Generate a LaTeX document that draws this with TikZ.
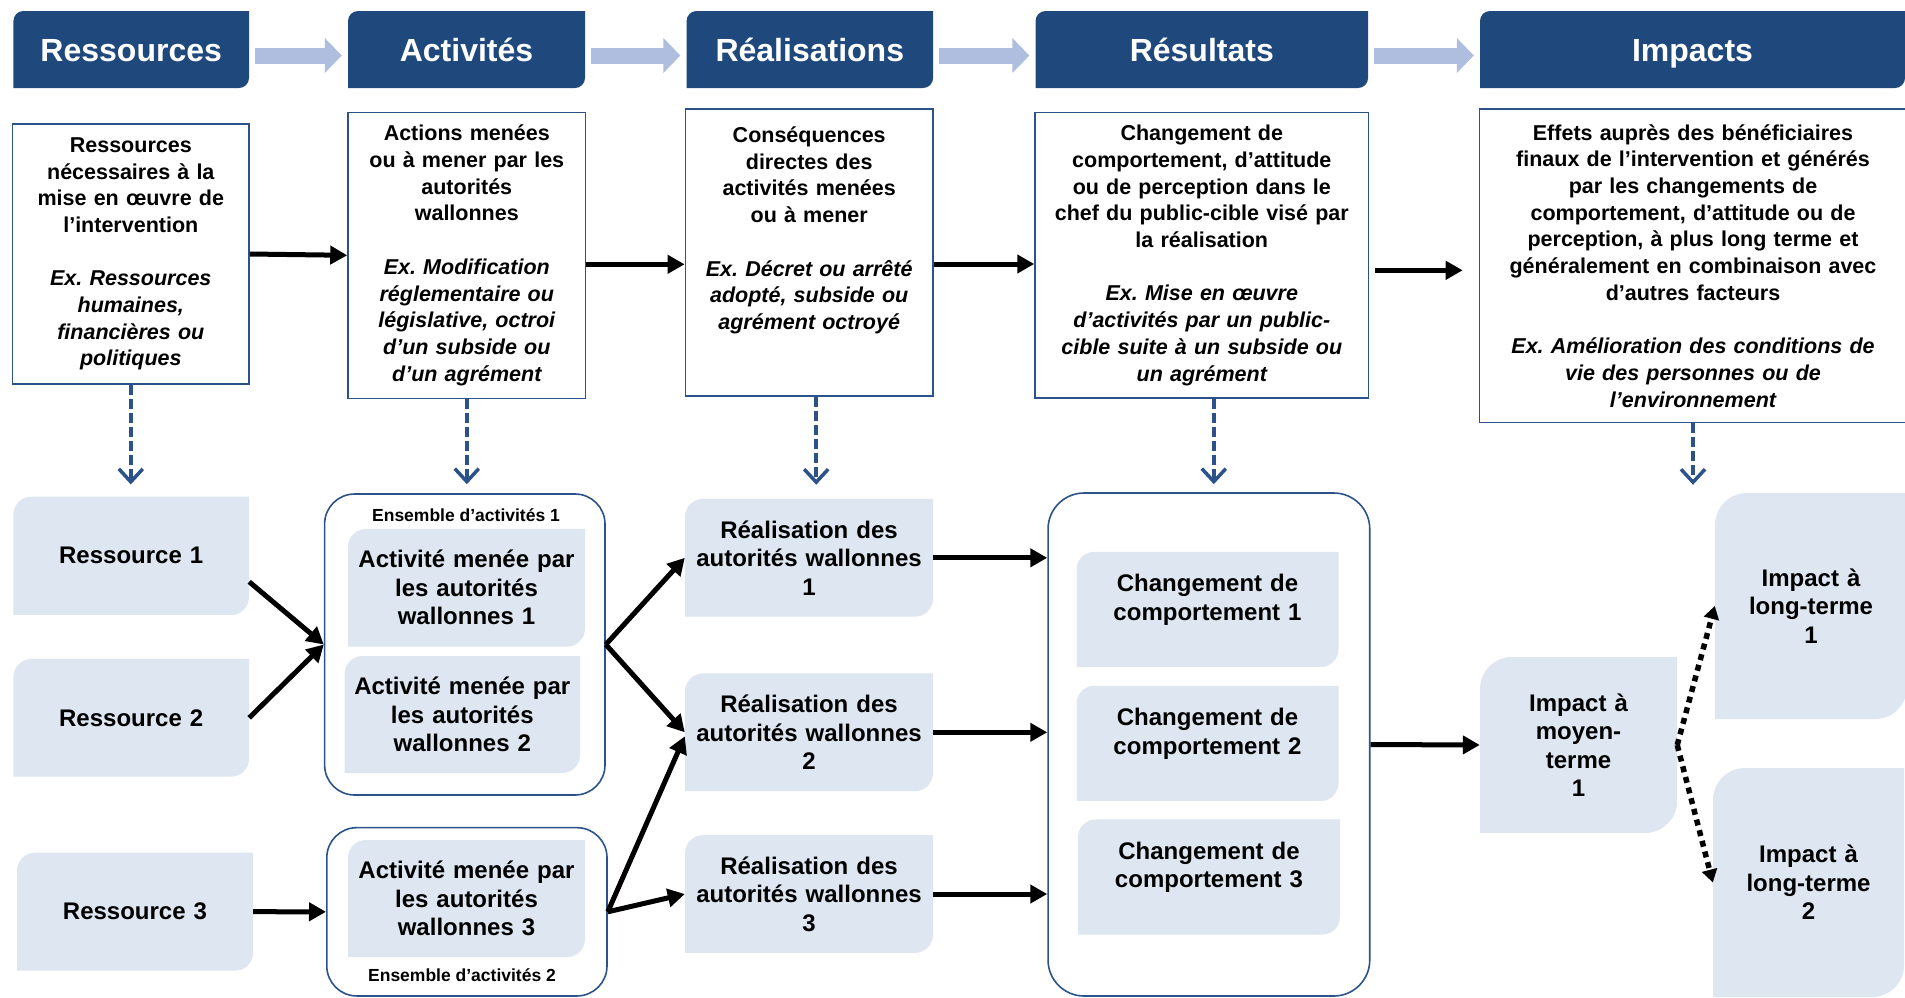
\documentclass[tikz,border=0pt]{standalone}
\usepackage{fontspec}
\setmainfont{Liberation Sans}
\usetikzlibrary{arrows.meta,positioning}
\frenchspacing

\definecolor{headblue}{RGB}{31,73,125}
\definecolor{boxblue}{RGB}{44,82,140}
\definecolor{paleblue}{RGB}{221,230,241}
\definecolor{flowblue}{RGB}{175,190,222}

\newcommand\txthead{\fontsize{32}{38}\selectfont\bfseries}
\newcommand\txtbody{\fontsize{21.5}{26.7}\selectfont\bfseries}
\newcommand\txtitem{\fontsize{24}{28.5}\selectfont\bfseries}
\newcommand\txtsmall{\fontsize{17.5}{20}\selectfont\bfseries}

\tikzset{
  diag/.style 2 args={fill=white, path picture={
      \fill[#1] (path picture bounding box.south west)
        -- ([yshift=-#2]path picture bounding box.north west)
        arc[start angle=180, end angle=90, radius=#2]
        -- (path picture bounding box.north east)
        -- ([yshift=#2]path picture bounding box.south east)
        arc[start angle=0, end angle=-90, radius=#2] -- cycle;}},
  sz/.style 2 args={minimum width=#1pt, minimum height=#2pt, text width=#1pt},
  header/.style={diag={headblue}{10pt}, text=white, font=\txthead, align=center, inner sep=0pt,
    text height=23pt, text depth=0pt},
  body/.style={draw=boxblue, line width=1.6pt, fill=white, font=\txtbody, align=center, inner sep=0pt},
  item/.style={diag={paleblue}{18pt}, font=\txtitem, align=center, inner sep=0pt},
  impact/.style={item, diag={paleblue}{32pt}},
  group/.style={draw=boxblue, line width=1.6pt, inner sep=0pt},
  grouplabel/.style={font=\txtsmall, anchor=base, inner sep=0pt},
  headflow/.style={draw=flowblue, line width=16pt, shorten <=6pt, shorten >=6pt,
    -{Triangle[length=17pt,width=34pt]}},
  flow/.style={draw=black, line width=5pt, -{Triangle[length=17pt,width=18pt]}},
  dotflow/.style={draw=black, line width=5.5pt, dash pattern=on 6pt off 5pt,
    -{Triangle[length=13pt,width=15pt]}},
  down/.style={draw=boxblue, line width=3.5pt, dash pattern=on 10pt off 4pt,
    -{Straight Barb[length=13pt,width=24pt]}},
}

\begin{document}
\begin{tikzpicture}[x=1pt, y=-1pt]
  \useasboundingbox (0,0) rectangle (1905,997);

  % column headers
  \node[header, sz={235.6}{77}] (hres) at (131.2,49.5) {Ressources};
  \node[header, sz={237}{77}] (hact) at (466.5,49.5) {Activités};
  \node[header, sz={246.5}{77}] (hreal) at (809.8,49.5) {Réalisations};
  \node[header, sz={332.5}{77}] (hresu) at (1201.8,49.5) {Résultats};
  \node[header, sz={425}{77}] (himp) at (1692.5,49.5) {Impacts};
  \foreach \a/\b in {hres/hact, hact/hreal, hreal/hresu, hresu/himp}
    \draw[headflow] ([yshift=-6pt]\a.east) -- ([yshift=-6pt]\b.west);

  % definitions
  \node[body, sz={236.5}{260}] (bres) at (130.8,254) {Ressources\\nécessaires à la\\mise en œuvre de\\l’intervention\\[26.7pt]
    \itshape Ex. Ressources\\humaines,\\financières ou\\politiques};
  \node[body, sz={237.5}{286}] (bact) at (466.8,255.3) {Actions menées\\ou à mener par les\\autorités\\wallonnes\\[26.7pt]
    \itshape Ex. Modification\\réglementaire ou\\législative, octroi\\d’un subside ou\\d’un agrément};
  \node[body, sz={247.6}{287}] (breal) at (809.2,252.5) {Conséquences\\directes des\\activités menées\\ou à mener\\[26.7pt]
    \itshape Ex. Décret ou arrêté\\adopté, subside ou\\agrément octroyé\\[22pt]\mbox{}};
  \node[body, sz={333.5}{285.3}] (bresu) at (1201.8,255.3) {Changement de\\comportement, d’attitude\\ou de perception dans le\\chef du public-cible visé par\\la réalisation\\[26.7pt]
    \itshape Ex. Mise en œuvre\\d’activités par un public-\\cible suite à un subside ou\\un agrément};
  \node[body, sz={427}{313.7}] (bimp) at (1693,265.8) {Effets auprès des bénéficiaires\\finaux de l’intervention et générés\\par les changements de\\comportement, d’attitude ou de\\perception, à plus long terme et\\généralement en combinaison avec\\d’autres facteurs\\[26.7pt]
    \itshape Ex. Amélioration des conditions de\\vie des personnes ou de\\l’environnement};

  \draw[flow] (bres.east) -- (bact.west);
  \draw[flow] ([yshift=-9pt]bact.east) -- ([yshift=-9pt]bact.east -| breal.west);
  \draw[flow] ([yshift=-11.5pt]breal.east) -- ([yshift=-11.5pt]breal.east -| bresu.west);
  \draw[flow, shorten <=6pt, shorten >=16pt] ([yshift=-15pt]bresu.east) -- ([yshift=-15pt]bresu.east -| bimp.west);

  % groups
  \node[group, rounded corners=30pt, minimum width=280.4pt, minimum height=301pt] (ens1) at (464.8,644.5) {};
  \node[group, rounded corners=30pt, minimum width=280.2pt, minimum height=168.3pt] (ens2) at (466.9,911.8) {};
  \node[group, rounded corners=36pt, minimum width=321.7pt, minimum height=503pt] (cont) at (1208.9,744.5) {};
  \node[grouplabel] (lab1) at (466,521.7) {Ensemble d’activités 1};
  \node[grouplabel] (lab2) at (462,981.7) {Ensemble d’activités 2};

  % items
  \node[item, sz={235.6}{118.3}] (res1) at (131.2,555.8) {Ressource 1};
  \node[item, sz={235.6}{117.7}] (res2) at (131.2,717.8) {Ressource 2};
  \node[item, sz={236}{118}] (res3) at (135,911.7) {Ressource 3};

  \node[item, sz={237}{117.7}] (act1) at (466.5,587.8) {Activité menée par\\les autorités\\wallonnes 1};
  \node[item, sz={235.4}{117}] (act2) at (462.3,714.5) {Activité menée par\\les autorités\\wallonnes 2};
  \node[item, sz={237}{117}] (act3) at (466.5,898.5) {Activité menée par\\les autorités\\wallonnes 3};

  \node[item, sz={248}{117.7}] (r1) at (809,557.8) {Réalisation des\\autorités wallonnes\\1};
  \node[item, sz={248}{117.7}] (r2) at (809,732.3) {Réalisation des\\autorités wallonnes\\2};
  \node[item, sz={248}{117.7}] (r3) at (809,894) {Réalisation des\\autorités wallonnes\\3};

  \node[item, sz={262}{115.3}] (c1) at (1207.5,609.4) {Changement de\\comportement 1\\[-4pt]\mbox{}};
  \node[item, sz={262}{115.3}] (c2) at (1207.5,743.4) {Changement de\\comportement 2\\[-4pt]\mbox{}};
  \node[item, sz={262}{115.3}] (c3) at (1209,877) {Changement de\\comportement 3\\[-4pt]\mbox{}};

  \node[impact, sz={197}{176}] (moyen) at (1578.5,745) {Impact à\\moyen-\\terme\\1};
  \node[impact, sz={192}{226}] (lt1) at (1811,606) {Impact à\\long-terme\\1};
  \node[impact, sz={191}{229}] (lt2) at (1808.5,882.5) {Impact à\\long-terme\\2};

  % links between levels
  \draw[down, shorten >=12pt] (bres.south) -- (bres.south |- res1.north);
  \draw[down, shorten >=9pt] (bact.south) -- (bact.south |- ens1.north);
  \draw[down, shorten >=14pt] ([xshift=7pt]breal.south) -- ([xshift=7pt]breal.south |- r1.north);
  \draw[down, shorten >=8pt] ([xshift=12pt]bresu.south) -- ([xshift=12pt]bresu.south |- cont.north);
  \draw[down, shorten >=8pt] (bimp.south) -- (bimp.south |- lt1.north);

  % chain
  \draw[flow] ([yshift=-26pt]res1.east) -- (ens1.west);
  \draw[flow] (res2.east) -- (ens1.west);
  \draw[flow] (res3.east) -- (ens2.west);
  \draw[flow] (ens1.east) -- (r1.west);
  \draw[flow] (ens1.east) -- (r2.west);
  \draw[flow] (ens2.east) -- ([yshift=-4pt]r2.west);
  \draw[flow] (ens2.east) -- (r3.west);
  \foreach \n in {r1,r2,r3}
    \draw[flow] (\n.east) -- (\n.east -| cont.west);
  \draw[flow] (cont.east) -- (moyen.west);
  \draw[dotflow] (moyen.east) -- (lt1.west);
  \draw[dotflow] (moyen.east) -- (lt2.west);
\end{tikzpicture}
\end{document}
